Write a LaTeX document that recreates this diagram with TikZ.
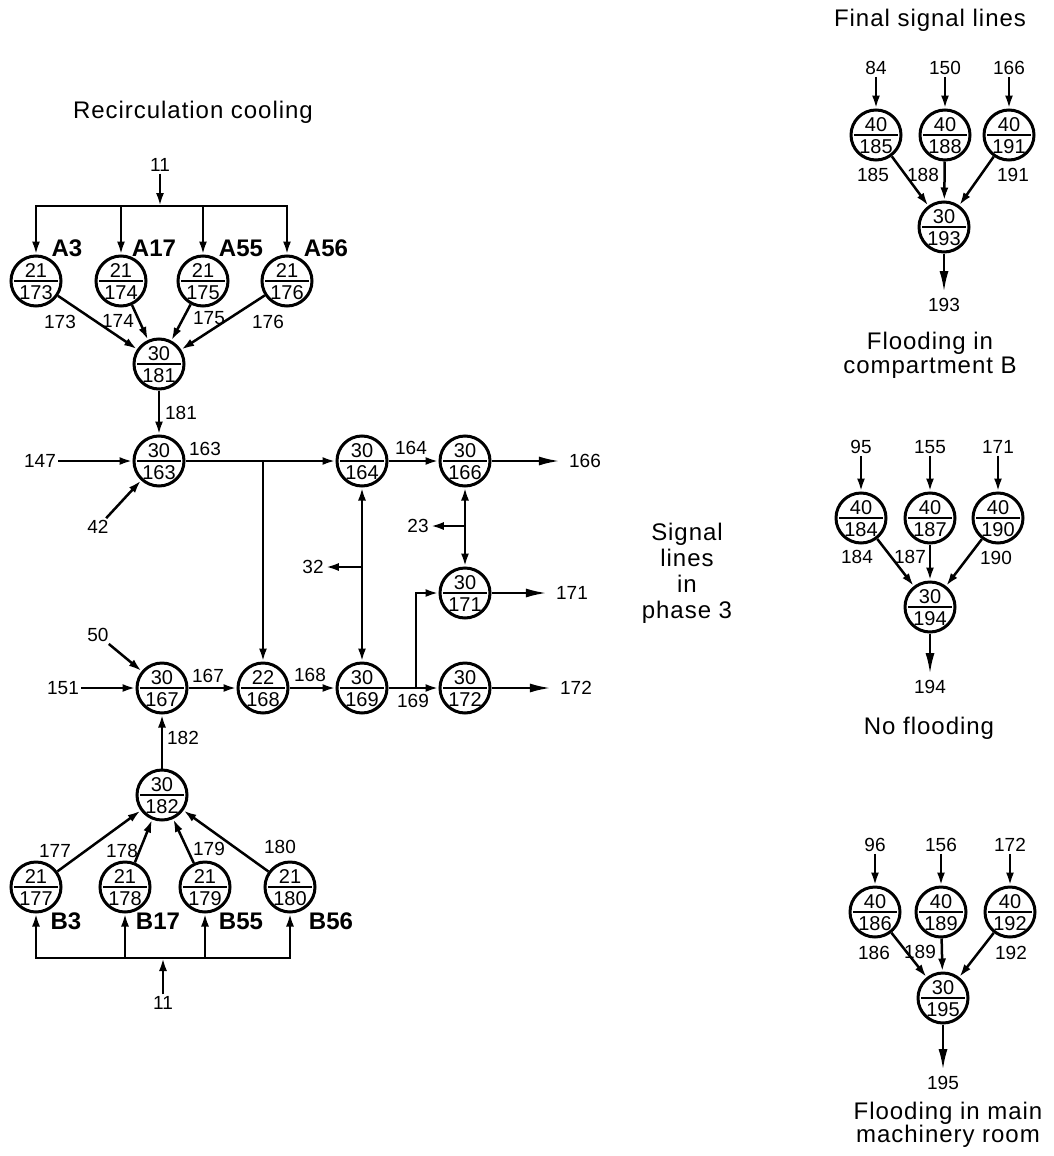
\documentclass[tikz,border=0pt]{standalone}
\usepackage{fontspec}
\setmainfont{Liberation Sans}
\newfontfamily\titlefont[LetterSpace=4]{Liberation Sans}
\usetikzlibrary{arrows.meta}
\newcommand\gatenode[4]{%
  \node[gate] (#1) at (#2) {};
  \draw[line width=1.8pt] ([xshift=-22pt]#1.center) -- ([xshift=22pt]#1.center);
  \node[gnum] (#1t) at ([yshift=10.5pt]#1.center) {#3};
  \node[gnum] (#1b) at ([yshift=-11.5pt]#1.center) {#4};
}
\begin{document}
\begin{tikzpicture}[x=1pt,y=-1pt,
  every node/.style={font=\fontsize{19}{22}\selectfont, inner sep=2pt},
  gate/.style={circle,draw,line width=3pt,minimum size=50pt,inner sep=0pt},
  gnum/.style={inner sep=0pt,font=\fontsize{20}{22}\selectfont},
  conn/.style={line width=2.5pt},
  arr/.style={conn,-{Latex[length=13pt,width=8pt]}},
  outarr/.style={conn,-{Latex[length=21pt,width=9pt]}},
  both/.style={conn,{Latex[length=13pt,width=8pt]}-{Latex[length=13pt,width=8pt]}},
  ttl/.style={font=\titlefont\fontsize{24}{26}\selectfont, align=center},
  big/.style={font=\bfseries\fontsize{24}{26}\selectfont},
  outv/.style={inner sep=6pt},
  outh/.style={inner xsep=9pt},
]
\useasboundingbox (0,0) rectangle (1054,1156);

% ---------- Recirculation cooling ----------
\node[ttl] (title1) at (193,112) {Recirculation cooling};
\node (in11a) at (160,165) {11};
\coordinate (busA) at (160,206);
\gatenode{a3}{36,281}{21}{173}
\gatenode{a17}{121,281}{21}{174}
\gatenode{a55}{203,281}{21}{175}
\gatenode{a56}{287,281}{21}{176}
\draw[arr] (in11a) -- (busA);
\foreach \g in {a3,a17,a55,a56} \draw[arr] (busA) -| (\g);
\node[big] (la3) at (67,248) {A3};
\node[big] (la17) at (154,248) {A17};
\node[big] (la55) at (241,248) {A55};
\node[big] (la56) at (326,248) {A56};

\gatenode{n181}{159,364}{30}{181}
\foreach \g in {a3,a17,a55,a56} \draw[arr] (\g) -- (n181);
\node (e173) at (60,322) {173};
\node (e174) at (118,321) {174};
\node (e175) at (209,318) {175};
\node (e176) at (268,322) {176};

\gatenode{n163}{159,461}{30}{163}
\draw[arr] (n181) -- (n163);
\node (e181) at (181,413) {181};
\node (in147) at (40,461) {147};
\draw[arr] (in147) -- (n163);
\node (in42) at (98,527) {42};
\draw[arr] (in42) -- (n163);
\node (e163) at (205,449) {163};

% ---------- Signal lines in phase 3 ----------
\gatenode{n164}{362,461}{30}{164}
\gatenode{n166}{465,461}{30}{166}
\gatenode{n171}{465,593}{30}{171}
\gatenode{n172}{465,688}{30}{172}
\gatenode{n169}{362,688}{30}{169}
\gatenode{n168}{263,688}{22}{168}
\gatenode{n167}{162,688}{30}{167}

\draw[arr] (n163) -- (n164);
\coordinate (j163) at (263,461);
\draw[arr] (j163) -- (n168);
\draw[arr] (n164) -- (n166);
\node (e164) at (411,448) {164};
\node[outh] (out166) at (585,461) {166};
\draw[outarr] (n166) -- (out166);

\draw[both] (n164) -- (n169);
\coordinate (j32) at (362,567);
\node (in32) at (313,567) {32};
\draw[arr] (j32) -- (in32);
\draw[both] (n166) -- (n171);
\coordinate (j23) at (465,526);
\node (in23) at (418,526) {23};
\draw[arr] (j23) -- (in23);

\node[outh] (out171) at (572,593) {171};
\draw[outarr] (n171) -- (out171);
\node[outh] (out172) at (576,688) {172};
\draw[outarr] (n172) -- (out172);

\draw[arr] (n168) -- (n169);
\node (e168) at (310,675) {168};
\draw[arr] (n169) -- (n172);
\node (e169) at (413,701) {169};
\coordinate (j169) at (416,688);
\draw[arr] (j169) |- (n171);

\draw[arr] (n167) -- (n168);
\node (e167) at (208,676) {167};
\node (in151) at (63,688) {151};
\draw[arr] (in151) -- (n167);
\node (in50) at (98,635) {50};
\draw[arr] (in50) -- (n167);

\gatenode{n182}{162,795}{30}{182}
\draw[arr] (n182) -- (n167);
\node (e182) at (183,738) {182};

\gatenode{b3}{36,887}{21}{177}
\gatenode{b17}{125,887}{21}{178}
\gatenode{b55}{205,887}{21}{179}
\gatenode{b56}{290,887}{21}{180}
\foreach \g in {b3,b17,b55,b56} \draw[arr] (\g) -- (n182);
\node (e177) at (55,851) {177};
\node (e178) at (122,851) {178};
\node (e179) at (209,849) {179};
\node (e180) at (280,847) {180};
\node[big] (lb3) at (66,921) {B3};
\node[big] (lb17) at (158,921) {B17};
\node[big] (lb55) at (241,921) {B55};
\node[big] (lb56) at (331,921) {B56};
\coordinate (busB) at (163,958);
\node (in11b) at (163,1003) {11};
\draw[arr] (in11b) -- (busB);
\foreach \g in {b3,b17,b55,b56} \draw[arr] (busB) -| (\g);

\node[ttl] (title3) at (687,573) {Signal\\lines\\in\\phase 3};

% ---------- Final signal lines ----------
\node[ttl] (title2) at (930,20) {Final signal lines};
% group 1
\gatenode{g185}{876,135}{40}{185}
\gatenode{g188}{945,135}{40}{188}
\gatenode{g191}{1009,135}{40}{191}
\gatenode{g193}{944,227}{30}{193}
\node (i84) at (876,68) {84};
\node (i150) at (945,68) {150};
\node (i166) at (1009,68) {166};
\draw[arr] (i84) -- (g185);
\draw[arr] (i150) -- (g188);
\draw[arr] (i166) -- (g191);
\foreach \g in {g185,g188,g191} \draw[arr] (\g) -- (g193);
\node (e185) at (873,175) {185};
\node (e188) at (923,175) {188};
\node (e191) at (1013,175) {191};
\node[outv] (o193) at (944,305) {193};
\draw[outarr] (g193) -- (o193);
\node[ttl, font=\titlefont\fontsize{24}{24}\selectfont] (t193) at (930,355) {Flooding in\\compartment B};

% group 2
\gatenode{g184}{861,518}{40}{184}
\gatenode{g187}{930,518}{40}{187}
\gatenode{g190}{998,518}{40}{190}
\gatenode{g194}{930,607}{30}{194}
\node (i95) at (861,447) {95};
\node (i155) at (930,447) {155};
\node (i171) at (998,447) {171};
\draw[arr] (i95) -- (g184);
\draw[arr] (i155) -- (g187);
\draw[arr] (i171) -- (g190);
\foreach \g in {g184,g187,g190} \draw[arr] (\g) -- (g194);
\node (e184) at (857,557) {184};
\node (e187) at (910,557) {187};
\node (e190) at (996,558) {190};
\node[outv] (o194) at (930,687) {194};
\draw[outarr] (g194) -- (o194);
\node[ttl] (t194) at (929,728) {No flooding};

% group 3
\gatenode{g186}{875,912}{40}{186}
\gatenode{g189}{941,912}{40}{189}
\gatenode{g192}{1010,912}{40}{192}
\gatenode{g195}{943,998}{30}{195}
\node (i96) at (875,845) {96};
\node (i156) at (941,845) {156};
\node (i172) at (1010,845) {172};
\draw[arr] (i96) -- (g186);
\draw[arr] (i156) -- (g189);
\draw[arr] (i172) -- (g192);
\foreach \g in {g186,g189,g192} \draw[arr] (\g) -- (g195);
\node (e186) at (874,953) {186};
\node (e189) at (920,952) {189};
\node (e192) at (1011,953) {192};
\node[outv] (o195) at (943,1083) {195};
\draw[outarr] (g195) -- (o195);
\node[ttl, font=\titlefont\fontsize{24}{22}\selectfont] (t195) at (948,1125) {Flooding in main\\machinery room};
\end{tikzpicture}
\end{document}
